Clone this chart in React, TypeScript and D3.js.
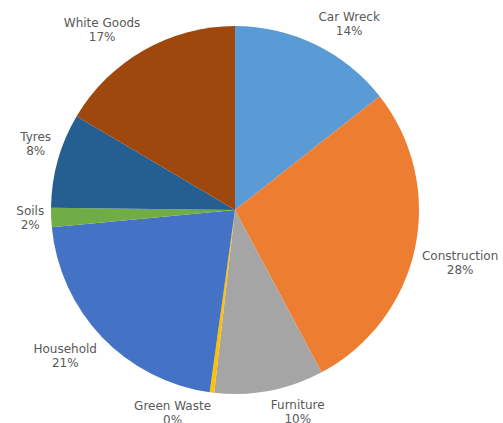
import React from "react";
import * as d3 from "d3";

const categories = ["Car Wreck", "Construction", "Furniture", "Green Waste", "Household", "Soils", "Tyres", "White Goods"];
const values = [14.4, 27.8, 9.6, 0.4, 21.3, 1.7, 8.3, 16.5];
const colors = ["#5B9BD5", "#ED7D31", "#A5A5A5", "#FFC000", "#4472C4", "#70AD47", "#255E91", "#9E480E"];

const W = 503;
const H = 423;
const CX = 235;
const CY = 210;
const R = 184;
const FONT = "DejaVu Sans, sans-serif";
const FS = 12;
const LH = 14;

function measure(text: string): number {
  const c = document.createElement("canvas").getContext("2d");
  if (!c) return text.length * 7;
  c.font = `${FS}px DejaVu Sans`;
  return c.measureText(text).width;
}

export default function App() {
  const total = d3.sum(values);
  const pie = d3.pie<number>().sort(null).value((d) => d)(values);
  const arc = d3.arc<d3.PieArcDatum<number>>().innerRadius(0).outerRadius(R);

  return (
    <svg width={W} height={H} style={{ position: "absolute", left: 0, top: 0, background: "#fff" }}>
      <g transform={`translate(${CX},${CY})`}>
        {pie.map((p, i) => (
          <path key={categories[i]} d={arc(p) || ""} fill={colors[i]} stroke="none" />
        ))}
      </g>
      {pie.map((p, i) => {
        const mid = (p.startAngle + p.endAngle) / 2;
        const s = Math.sin(mid);
        const c = Math.cos(mid);
        const rr = R + 7;
        const px = CX + rr * s;
        const py = CY - rr * c;
        const l1 = categories[i];
        const l2 = `${Math.round((values[i] / total) * 100)}%`;
        const w = Math.max(measure(l1), measure(l2));
        const h = LH * 2;
        const dx = Math.abs(s) < 0.1 ? 0 : Math.sign(s) * (w / 2);
        const dy = Math.abs(c) < 0.1 ? 0 : -Math.sign(c) * (h / 2);
        const bx = px + dx;
        const by = py + dy;
        return (
          <text key={"l" + i} x={bx} y={by - h / 2} textAnchor="middle" fontFamily={FONT} fontSize={FS} fill="#595959">
            <tspan x={bx} dy={11}>{l1}</tspan>
            <tspan x={bx} dy={LH}>{l2}</tspan>
          </text>
        );
      })}
    </svg>
  );
}
